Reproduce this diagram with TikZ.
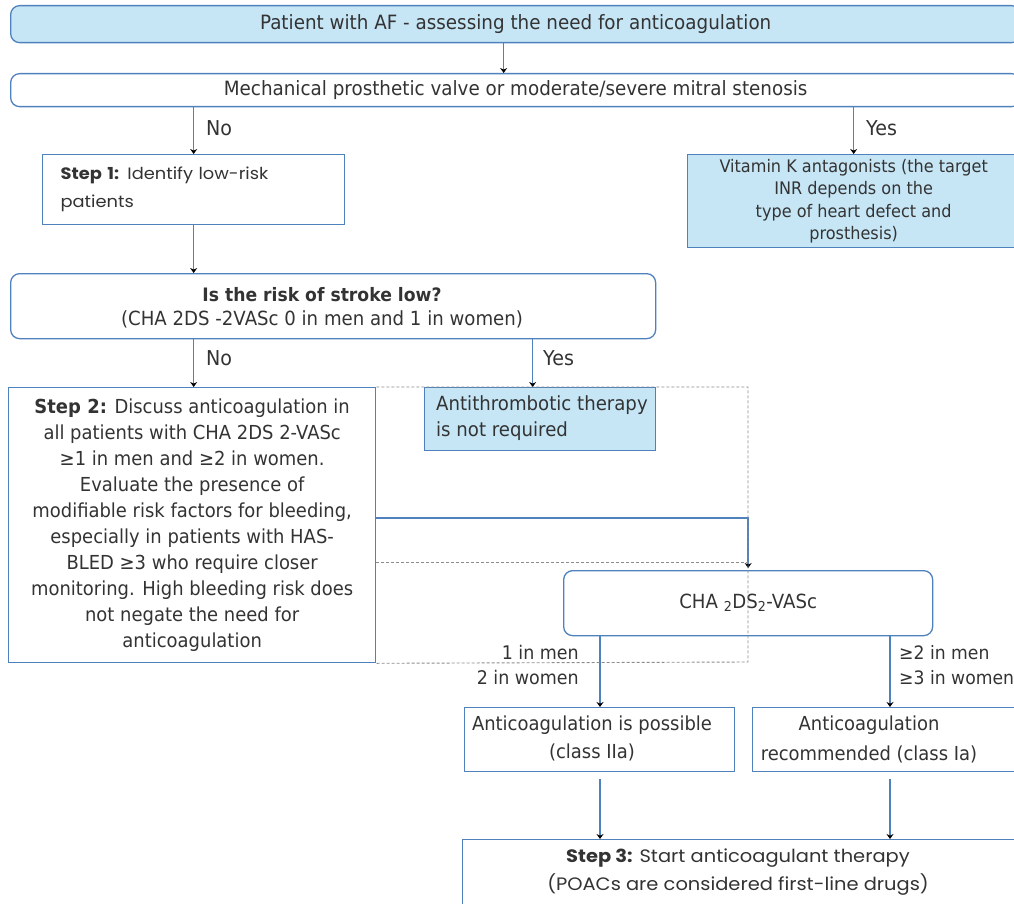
\documentclass[tikz,border=0pt]{standalone}
\usepackage{fontspec}
\setmainfont{DejaVu Sans}[FakeStretch=0.93]
\newfontfamily\gothic{Poppins}[FakeStretch=1.08]
\usetikzlibrary{arrows.meta}
\definecolor{bl}{HTML}{4F81BD}
\definecolor{lb}{HTML}{C6E6F6}
\definecolor{tx}{HTML}{333333}
\definecolor{dg}{HTML}{8C8C8C}
\newcommand\fsz[2]{\fontsize{#1}{#2}\selectfont}
\begin{document}
\begin{tikzpicture}[x=1pt,y=-1pt,
  box/.style={draw=bl,line width=1.3pt,inner sep=0pt,text=tx,anchor=north west,align=center},
  rbox/.style={box,rounded corners=9pt},
  blue/.style={fill=lb},
  txt/.style={text=tx,inner sep=0pt},
  conn/.style={draw=bl,line width=1.3pt,-{Stealth[length=5pt,width=7pt,color=black]}},
  dashline/.style={draw=dg,line width=0.9pt,dash pattern=on 3pt off 2pt}
]
\useasboundingbox (0,0) rectangle (1014,904);

% boxes
\node[rbox,blue,minimum width=1010pt,minimum height=37pt,font=\fsz{19.7}{22}] (top) at (10,5)
  {Patient with AF - assessing the need for anticoagulation};
\node[rbox,fill=white,minimum width=1010pt,minimum height=33pt,font=\fsz{19.7}{22}] (mech) at (10,73)
  {Mechanical prosthetic valve or moderate/severe mitral stenosis};
\node[box,minimum height=70pt,text width=266pt,inner xsep=18pt,align=left,font=\gothic\fsz{16.5}{28}] (step1) at (42,154)
  {\textbf{Step 1:} Identify low-risk\\patients};
\node[box,blue,minimum width=332pt,minimum height=93pt,font=\fsz{17.3}{22.5}] (vitk) at (687,154)
  {Vitamin K antagonists (the target\\INR depends on the\\type of heart defect and\\prosthesis)};
\node[rbox,minimum width=645pt,minimum height=65pt] (risk) at (10,273) {};
\node[txt,align=center,font=\fsz{19.5}{24}] (risktext) at (322,308)
  {\fsz{18.5}{24}\textbf{Is the risk of stroke low?}\\(CHA 2DS -2VASc 0 in men and 1 in women)};
\node[box,minimum width=367pt,minimum height=275pt,font=\fsz{19.3}{26}] (step2) at (8,387)
  {\textbf{Step 2:} Discuss anticoagulation in\\all patients with CHA 2DS 2-VASc\\≥1 in men and ≥2 in women.\\Evaluate the presence of\\modifiable risk factors for bleeding,\\especially in patients with HAS-\\BLED ≥3 who require closer\\monitoring. High bleeding risk does\\not negate the need for\\anticoagulation};
\node[box,blue,minimum width=231pt,minimum height=63pt] (anti) at (424,387) {};
\node[txt,anchor=west,align=left,font=\fsz{19.5}{26}] (antitext) at (436,418)
  {Antithrombotic therapy\\is not required};
\node[rbox,minimum width=369pt,minimum height=65pt,font=\fsz{19.5}{20}] (cha) at (563,570)
  {CHA \textsubscript{2}DS\textsubscript{2}-VASc};
\node[box,minimum width=270pt,minimum height=64pt] (poss) at (464,707) {};
\node[txt,align=center,font=\fsz{19.3}{28}] (posstext) at (592,738)
  {Anticoagulation is possible\\(class IIa)};
\node[box,minimum width=270pt,minimum height=64pt] (rec) at (752,707) {};
\node[txt,align=center,font=\fsz{19.3}{30}] (rectext) at (869,739)
  {Anticoagulation\\recommended (class Ia)};
\node[box,minimum width=560pt,minimum height=80pt] (step3) at (462,839) {};
\node[txt,align=center,font=\gothic\fsz{18}{28}] (step3text) at (738,872)
  {\textbf{Step 3:} Start anticoagulant therapy\\(POACs are considered first-line drugs)};

% labels
\node[txt,anchor=west,font=\fsz{20.5}{22}] (no1) at (206,128) {No};
\node[txt,anchor=west,font=\fsz{20.5}{22}] (yes1) at (866,128) {Yes};
\node[txt,anchor=west,font=\fsz{20.5}{22}] (no2) at (206,358) {No};
\node[txt,anchor=west,font=\fsz{20.5}{22}] (yes2) at (543,358) {Yes};
\node[txt,anchor=east,align=right,font=\fsz{18.8}{25}] (lowlab) at (579,665) {1 in men\\2 in women};
\node[txt,anchor=west,align=left,font=\fsz{18.5}{25}] (highlab) at (899,665) {≥2 in men\\≥3 in women};

% connectors
\coordinate (lx) at (600,0);
\coordinate (rx) at (890,0);
\draw[conn] ([xshift=-12pt]top.south) -- ([xshift=-12pt]top.south |- mech.north);
\draw[conn] (mech.south -| step1.north) -- (step1.north);
\draw[conn] (mech.south -| vitk.north) -- (vitk.north);
\draw[conn] (step1.south) -- (step1.south |- risk.north);
\draw[conn] (risk.south -| step1.south) -- (step1.south |- step2.north);
\draw[conn] ([xshift=-7.5pt]risk.south -| anti.north) -- ([xshift=-7.5pt]anti.north);
\draw[conn,line width=1.8pt] ([yshift=7.5pt]step2.east) -| ([yshift=2pt]cha.north);
\draw[conn] (cha.south -| lx) -- (lx |- poss.north);
\draw[conn] (cha.south -| rx) -- (rx |- rec.north);
\draw[conn] ([yshift=-7pt]poss.south -| lx) -- (lx |- step3.north);
\draw[conn] ([yshift=-7pt]rec.south -| rx) -- (rx |- step3.north);

% dashed frame
\coordinate (dbr) at (748,662);
\coordinate (dmid) at (748,562);
\draw[dashline] (step2.north east) -- (step2.north east -| dbr) -- (dbr) -- (step2.south east);
\draw[dashline] (step2.east |- dmid) -- (dmid);
\end{tikzpicture}
\end{document}
